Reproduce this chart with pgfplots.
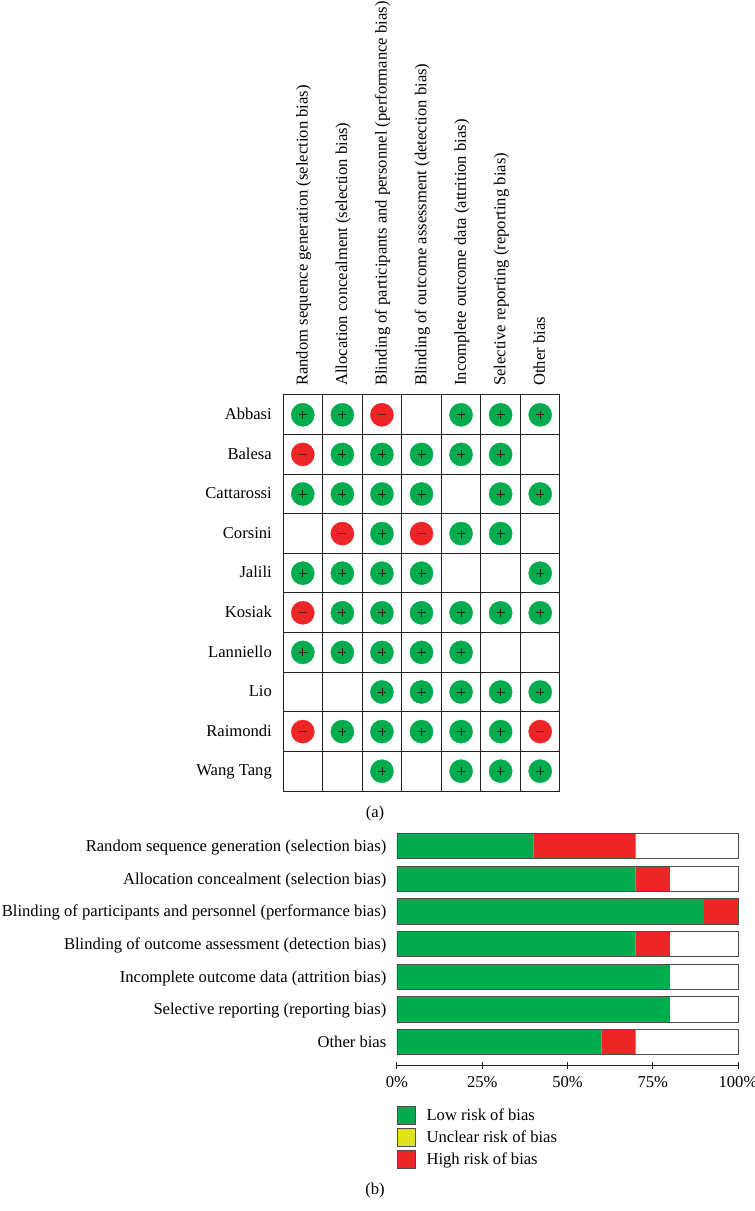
\documentclass[border=0pt]{standalone}
\usepackage{pgfplots}
\usepackage{pgfplotstable}
\usepackage{fontspec}
\setmainfont{Liberation Serif}
\pgfplotsset{compat=1.18}
\definecolor{lowc}{HTML}{00AC4E}
\definecolor{highc}{HTML}{EE2527}
\definecolor{uncl}{HTML}{E1E21A}
\definecolor{ink}{HTML}{231F20}
\pgfplotstableread{
x y
0.5 0.5
1.5 0.5
4.5 0.5
5.5 0.5
6.5 0.5
1.5 1.5
2.5 1.5
3.5 1.5
4.5 1.5
5.5 1.5
0.5 2.5
1.5 2.5
2.5 2.5
3.5 2.5
5.5 2.5
6.5 2.5
2.5 3.5
4.5 3.5
5.5 3.5
0.5 4.5
1.5 4.5
2.5 4.5
3.5 4.5
6.5 4.5
1.5 5.5
2.5 5.5
3.5 5.5
4.5 5.5
5.5 5.5
6.5 5.5
0.5 6.5
1.5 6.5
2.5 6.5
3.5 6.5
4.5 6.5
2.5 7.5
3.5 7.5
4.5 7.5
5.5 7.5
6.5 7.5
1.5 8.5
2.5 8.5
3.5 8.5
4.5 8.5
5.5 8.5
2.5 9.5
4.5 9.5
5.5 9.5
6.5 9.5
}\lowtable
\pgfplotstableread{
x y
2.5 0.5
0.5 1.5
1.5 3.5
3.5 3.5
0.5 5.5
0.5 8.5
6.5 8.5
}\hightable
\pgfplotstableread{
y low unclear high full
0 40 0 30 100
1 70 0 10 100
2 90 0 10 100
3 70 0 10 100
4 80 0 0 100
5 80 0 0 100
6 60 0 10 100
}\bartable
\begin{document}
\begin{tikzpicture}[font=\fontsize{16.6}{19}\selectfont]
\path[use as bounding box] (0,0) rectangle (755pt,1211pt);
% risk matrix
\begin{axis}[
  at={(283pt,420pt)},anchor=south west,
  scale only axis,width=277pt,height=396pt,
  xmin=0,xmax=7,ymin=0,ymax=10,y dir=reverse,
  clip=false,
  axis line style={ink,line width=1pt},
  xtick={0.5,1.5,2.5,3.5,4.5,5.5,6.5},
  ytick={0.5,1.5,2.5,3.5,4.5,5.5,6.5,7.5,8.5,9.5},
  minor xtick={1,2,3,4,5,6},
  minor ytick={1,2,3,4,5,6,7,8,9},
  major tick length=0pt,minor tick length=0pt,
  grid=minor,
  minor grid style={ink,line width=1pt},
  xticklabel pos=top,
  xticklabels={Random sequence generation (selection bias),Allocation concealment (selection bias),Blinding of participants and personnel (performance bias),Blinding of outcome assessment (detection bias),Incomplete outcome data (attrition bias),Selective reporting (reporting bias),Other bias},
  yticklabels={Abbasi,Balesa,Cattarossi,Corsini,Jalili,Kosiak,Lanniello,Lio,Raimondi,Wang Tang},
  x tick label style={rotate=90,anchor=west,inner sep=0pt,xshift=9pt,yshift=-1pt,text height=11pt,text depth=3.5pt},
  y tick label style={anchor=east,inner sep=0pt,xshift=-11pt,yshift=-1pt,text height=11pt,text depth=3.5pt},
]
\addplot[only marks,mark=*,mark size=11.6pt,mark options={draw=lowc,fill=lowc,line width=0.3pt}] table[x=x,y=y] {\lowtable};
\addplot[only marks,mark=+,mark size=4pt,mark options={draw=ink,line width=0.6pt}] table[x=x,y=y] {\lowtable};
\addplot[only marks,mark=*,mark size=11.6pt,mark options={draw=highc,fill=highc,line width=0.3pt}] table[x=x,y=y] {\hightable};
\addplot[only marks,mark=-,mark size=4pt,mark options={draw=ink!70!highc,line width=0.6pt}] table[x=x,y=y] {\hightable};
\end{axis}
\node[anchor=center] at (375pt,397pt) {(a)};
% stacked bars
\begin{axis}[
  at={(397pt,146pt)},anchor=south west,
  scale only axis,width=341pt,height=232pt,
  xbar stacked,bar width=25.5pt,
  xmin=0,xmax=100,ymin=-0.4,ymax=6.7,y dir=reverse,
  axis x line=bottom,axis y line=left,
  x axis line style={-,ink,line width=1pt},
  y axis line style={draw=none},
  xtick={0,25,50,75,100},
  xticklabels={0\%,25\%,50\%,75\%,100\%},
  xtick align=center,
  x tick style={ink,line width=1pt},
  major tick length=7pt,
  y tick style={draw=none},
  ytick={0,1,2,3,4,5,6},
  yticklabels={Random sequence generation (selection bias),Allocation concealment (selection bias),Blinding of participants and personnel (performance bias),Blinding of outcome assessment (detection bias),Incomplete outcome data (attrition bias),Selective reporting (reporting bias),Other bias},
  y tick label style={anchor=east,inner sep=0pt,xshift=-7pt,yshift=-1.5pt,text height=11pt,text depth=3.5pt},
  x tick label style={inner sep=0pt,yshift=-8pt},
  clip=false,
  legend style={at={(0,-0.178)},anchor=north west,draw=none,fill=none,inner sep=0pt,outer sep=0pt,row sep=3pt,
    nodes={inner sep=0pt,anchor=west}},
  legend cell align=left,
]
\addplot[fill=lowc,draw=none,forget plot] table[x=low,y=y] {\bartable};
\addplot[fill=uncl,draw=none,forget plot] table[x=unclear,y=y] {\bartable};
\addplot[fill=highc,draw=none,forget plot] table[x=high,y=y] {\bartable};
\addlegendimage{legend image code/.code={\path (29pt,0pt); \draw[ink!80,line width=0.8pt,fill=lowc] (0pt,-9pt) rectangle (18pt,9pt);}}
\addlegendentry{Low risk of bias}
\addlegendimage{legend image code/.code={\path (29pt,0pt); \draw[ink!80,line width=0.8pt,fill=uncl] (0pt,-9pt) rectangle (18pt,9pt);}}
\addlegendentry{Unclear risk of bias}
\addlegendimage{legend image code/.code={\path (29pt,0pt); \draw[ink!80,line width=0.8pt,fill=highc] (0pt,-9pt) rectangle (18pt,9pt);}}
\addlegendentry{High risk of bias}
\end{axis}
% bar outlines
\begin{axis}[
  at={(397pt,146pt)},anchor=south west,
  scale only axis,width=341pt,height=232pt,
  xbar,bar width=25.5pt,
  xmin=0,xmax=100,ymin=-0.4,ymax=6.7,y dir=reverse,
  hide axis,clip=false,
]
\addplot[fill=none,draw=ink!80,line width=0.9pt] table[x=full,y=y] {\bartable};
\end{axis}
\node[anchor=center] at (375pt,20pt) {(b)};
\end{tikzpicture}
\end{document}
